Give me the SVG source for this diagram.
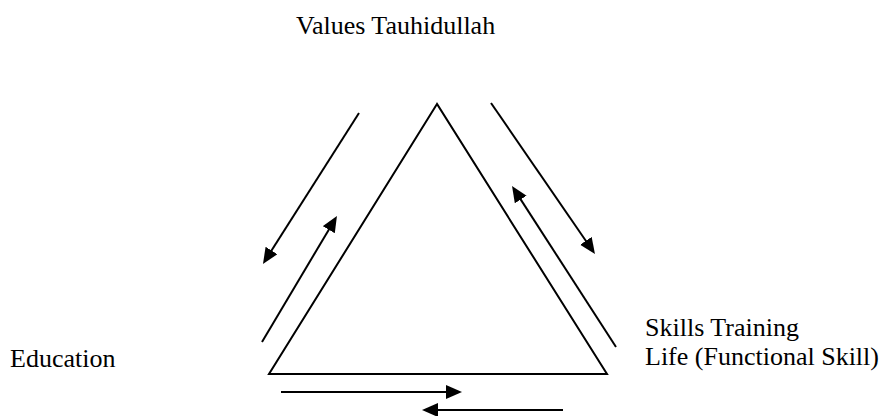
<svg xmlns="http://www.w3.org/2000/svg" width="883" height="416" viewBox="0 0 883 416">
<style>
.ln{stroke:#000;stroke-width:2;fill:none}
.arr{stroke:#000;stroke-width:2;fill:none;marker-end:url(#ah)}
</style>
<defs>
<marker id="ah" markerUnits="userSpaceOnUse" markerWidth="18" markerHeight="16" refX="12" refY="7" orient="auto">
<path d="M0,0 L16,7 L0,14 z" fill="#000"/>
</marker>
</defs>
<rect width="883" height="416" fill="#fff"/>
<g id="triangle">
<polygon class="ln" points="437,104 269,374 607,374"/>
</g>
<g font-family="Liberation Serif, Times New Roman, DejaVu Serif, serif" font-size="26" fill="#000">
<g id="values"><text x="296" y="34">Values Tauhidullah</text></g>
<g id="education"><text x="10" y="367">Education</text></g>
<g id="skills"><text x="645" y="336">Skills Training</text><text x="645" y="365">Life (Functional Skill)</text></g>
</g>
<g id="connectors">
<line class="arr" x1="359" y1="113" x2="265.1" y2="260.6"/>
<line class="arr" x1="262" y1="342" x2="334.9" y2="219.4"/>
<line class="arr" x1="491" y1="103" x2="592.7" y2="250.7"/>
<line class="arr" x1="616" y1="347" x2="514.2" y2="189.4"/>
<line class="arr" x1="281" y1="392" x2="458" y2="392"/>
<line class="arr" x1="563" y1="410" x2="426" y2="410"/>
</g>
</svg>
